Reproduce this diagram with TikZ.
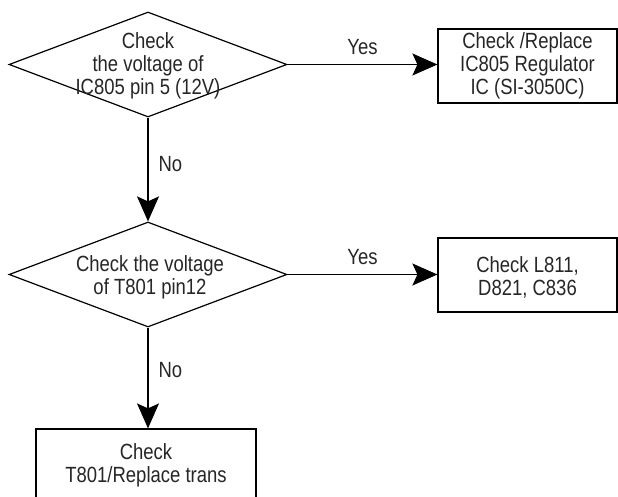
\documentclass[tikz,border=0pt]{standalone}
\usepackage{fontspec}
\setmainfont[FakeStretch=0.84]{Liberation Sans}
\usetikzlibrary{shapes.geometric,arrows.meta}
\begin{document}
\begin{tikzpicture}[x=1pt,y=-1pt,
  every node/.style={font=\fontsize{22}{23}\selectfont, text=black!85},
  dec/.style={shape=diamond, draw, line width=1.2pt, inner sep=0pt, minimum width=278pt, minimum height=105pt},
  procbox/.style={draw, line width=1.2pt, inner sep=0pt},
  txt/.style={align=center, inner sep=0pt},
  conn/.style={line width=1.2pt, -{Stealth[length=25pt,width=22pt,inset=5pt]}}
]
\useasboundingbox (0,0) rectangle (618,497);
% decisions
\node[dec] (d1) at (148,64.5) {};
\node[txt] (t1) at (148,66) {Check\\the voltage of\\IC805 pin 5 (12V)};
\node[dec] (d2) at (148,274.5) {};
\node[txt] (t2) at (150,277) {Check the voltage\\of T801 pin12};
% boxes
\node[procbox, minimum width=179pt, minimum height=74pt] (b1) at (527.5,66) {};
\node[txt] (tb1) at (527.5,66) {Check /Replace\\IC805 Regulator\\IC (SI-3050C)};
\node[procbox, minimum width=179pt, minimum height=74pt] (b2) at (527.5,275) {};
\node[txt] (tb2) at (527.5,277) {Check L811,\\D821, C836};
\node[procbox, minimum width=220pt, minimum height=74pt] (b3) at (146,466) {};
\node[txt] (tb3) at (146,465) {Check\\T801/Replace trans};
% connectors
\draw[conn] (d1.east) -- (d1.east -| b1.west) node[midway, above=9pt, txt] (y1) {Yes};
\draw[conn] (d1.south) -- (d2.north) node[pos=0.45, right=10pt, txt] (n1) {No};
\draw[conn] (d2.east) -- (d2.east -| b2.west) node[midway, above=9pt, txt] (y2) {Yes};
\draw[conn] (d2.south) -- (d2.south |- b3.north) node[pos=0.42, right=10pt, txt] (n2) {No};
\end{tikzpicture}
\end{document}
